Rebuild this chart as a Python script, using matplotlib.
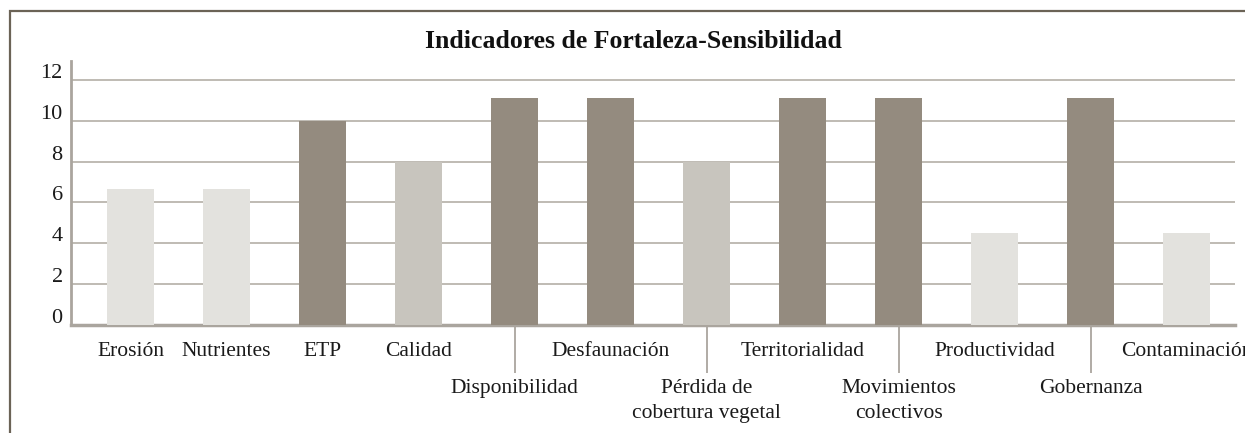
import matplotlib
matplotlib.use('Agg')
import matplotlib.pyplot as plt
import matplotlib.transforms as mtransforms
from matplotlib.patches import Rectangle
import numpy as np

# datos
categorias = ['Erosión', 'Nutrientes', 'ETP', 'Calidad', 'Disponibilidad',
              'Desfaunación', 'Pérdida de\ncobertura vegetal', 'Territorialidad',
              'Movimientos\ncolectivos', 'Productividad', 'Gobernanza', 'Contaminación']
valores = [6.67, 6.67, 10, 8, 11.1, 11.1, 8, 11.1, 11.1, 4.5, 11.1, 4.5]
y_ticks = [0, 2, 4, 6, 8, 10, 12]

claro = '#e3e2de'
medio = '#c8c5be'
oscuro = '#948b7f'
colores = [claro, claro, oscuro, medio, oscuro, oscuro, medio, oscuro, oscuro, claro, oscuro, claro]
fila_baja = [4, 6, 8, 10]   # etiquetas en la segunda fila

plt.rcParams['font.family'] = 'Liberation Serif'

fig = plt.figure(figsize=(12.45, 4.33), dpi=100)
ax = fig.add_axes([71/1245, 1 - 325/433, (1235 - 71)/1245, (325 - 61)/433])

x_pos = np.arange(len(categorias))
ax.bar(x_pos, valores, 0.49, color=colores, zorder=3)

ax.set_xlim(-0.62, 11.505)
ax.set_ylim(0, 12.93)
ax.set_yticks(y_ticks)
ax.yaxis.grid(True, color='#bab5ae', linewidth=1.3, zorder=0)
ax.tick_params(axis='y', length=0, pad=6, labelsize=16, labelcolor='#1a1a1a')
offset = mtransforms.ScaledTranslation(0, 9/100, fig.dpi_scale_trans)
for lab in ax.get_yticklabels():
    lab.set_transform(lab.get_transform() + offset)

for s in ['top', 'right']:
    ax.spines[s].set_visible(False)
ax.spines['left'].set_color('#aaa59e')
ax.spines['left'].set_linewidth(2)
ax.spines['bottom'].set_color('#aaa59e')
ax.spines['bottom'].set_linewidth(2.5)

ax.set_xticks(x_pos)
ax.set_xticklabels(categorias, fontsize=15.5, color='#1a1a1a', linespacing=1.45)
ax.tick_params(axis='x', length=0)
for i, t in enumerate(ax.xaxis.get_major_ticks()):
    t.set_pad(39 if i in fila_baja else 12)

# marcas largas para las etiquetas de la segunda fila
ax.vlines([x_pos[i] for i in fila_baja], -0.182, 0, transform=ax.get_xaxis_transform(),
          color='#aaa59e', linewidth=1.3, clip_on=False)

fig.text(633/1245, 1 - 42/433, 'Indicadores de Fortaleza-Sensibilidad', ha='center', va='center',
         fontsize=18.5, fontweight='bold', color='#111111')

# marco
fig.patches.append(Rectangle((10/1245, -0.1), 1.2, 1 - 11/433 + 0.1, transform=fig.transFigure,
                             fill=False, edgecolor='#6b6356', linewidth=1.6))

fig.savefig('out.png', dpi=100)
